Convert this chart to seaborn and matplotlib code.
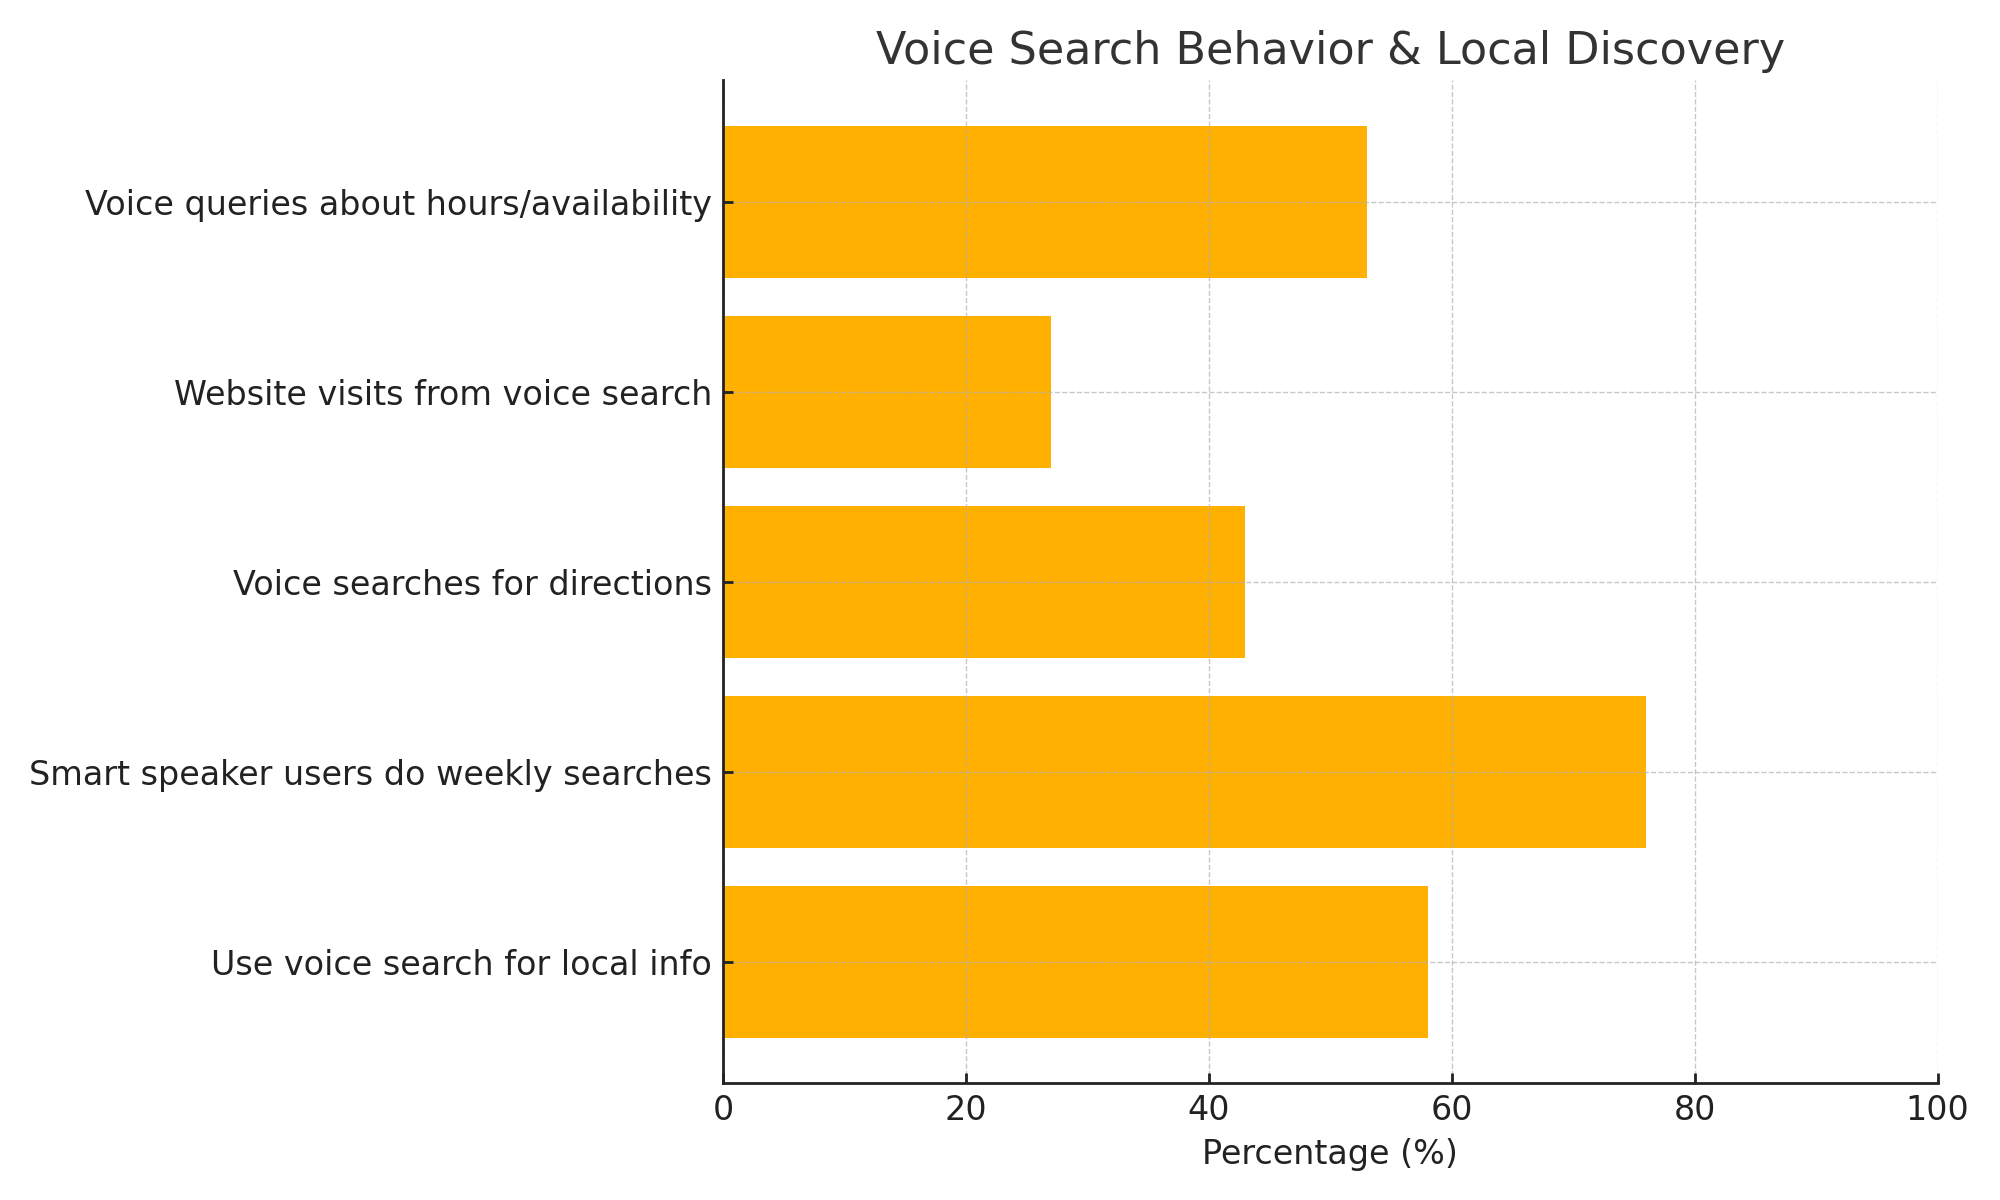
import pandas as pd
import numpy as np
import matplotlib
matplotlib.use("Agg")
import matplotlib.pyplot as plt
import seaborn as sns

categories = ["Voice queries about hours/availability",
              "Website visits from voice search",
              "Voice searches for directions",
              "Smart speaker users do weekly searches",
              "Use voice search for local info"]
values = [53, 27, 43, 76, 58]

df = pd.DataFrame({"behavior": categories, "pct": values})

sns.set_style("white")
plt.rcParams['font.family'] = ['DejaVu Sans']

fig = plt.figure(figsize=(10, 6), dpi=200)
ax = fig.add_axes([0.3616, 0.0973, 0.6072, 0.8357])
sns.barplot(data=df, x="pct", y="behavior", color="#FFB000", saturation=1,
            width=0.8, linewidth=0, ax=ax)
ax.set_xlim(0, 100)
ax.set_ylim(4.64, -0.64)
ax.set_xticks([0, 20, 40, 60, 80, 100])
# grid sits on top of the bars like in the original
ax.set_axisbelow(False)
ax.grid(True, linestyle="--", color="#b0b0b0", alpha=0.7, linewidth=0.5)
for s in ["top", "right"]:
    ax.spines[s].set_visible(False)
for s in ["left", "bottom"]:
    ax.spines[s].set_color("#222222")
    ax.spines[s].set_linewidth(1.0)
    ax.spines[s].set_zorder(4)
ax.tick_params(axis="both", direction="in", length=3.5, width=1.0, pad=4,
               labelsize=12, colors="#222222", left=True, bottom=True)
ax.set_xlabel("Percentage (%)", fontsize=12, color="#222222")
ax.set_ylabel("")
ax.set_title("Voice Search Behavior & Local Discovery", fontsize=16, color="#333333", pad=6)

fig.savefig("out.png")
